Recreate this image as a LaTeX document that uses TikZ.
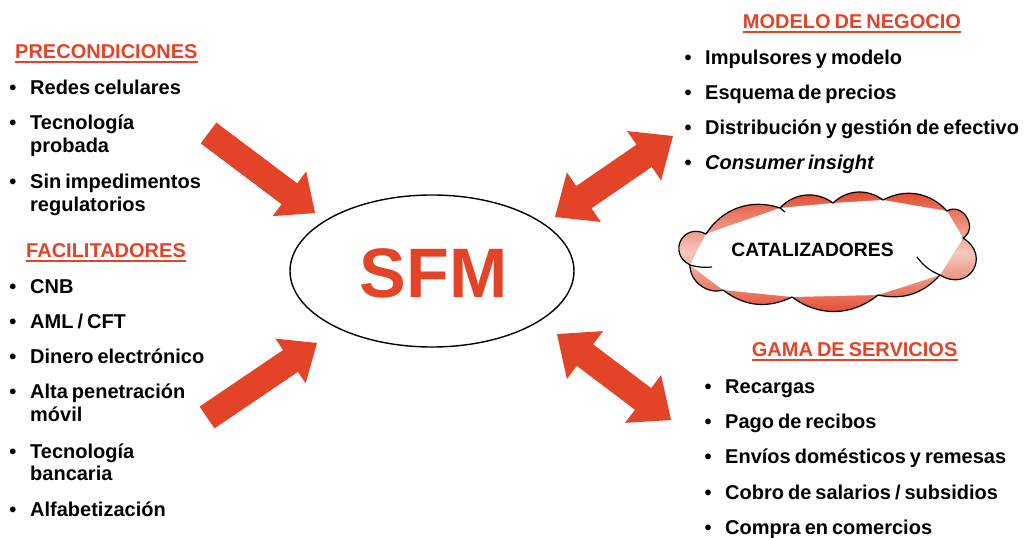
\documentclass[tikz,border=0pt]{standalone}
\usepackage{fontspec}
\setmainfont{Liberation Sans}
\usetikzlibrary{calc,shapes.geometric}
\definecolor{cred}{RGB}{227,68,40}
\definecolor{cpink}{RGB}{246,200,190}
\newcommand{\mytxtfont}{\fontsize{20bp}{24bp}\selectfont\bfseries\spaceskip=4bp\relax}
% single block arrow: #1 tail, #2 tip, #3 shaft half width, #4 head half width, #5 head length
\newcommand{\blkarrow}[5]{%
  \coordinate (hb) at ($(#2)!#5!(#1)$);
  \fill[cred] ($(#1)!#3!90:(#2)$) -- ($(hb)!#3!90:(#2)$) -- ($(hb)!#4!90:(#2)$) -- (#2)
    -- ($(hb)!#4!-90:(#2)$) -- ($(hb)!#3!-90:(#2)$) -- ($(#1)!#3!-90:(#2)$) -- cycle;}
% double block arrow: #1 tip A, #2 tip B
\newcommand{\dblarrow}[5]{%
  \coordinate (ha) at ($(#1)!#5!(#2)$);
  \coordinate (hbb) at ($(#2)!#5!(#1)$);
  \fill[cred] (#1) -- ($(ha)!#4!90:(#2)$) -- ($(ha)!#3!90:(#2)$) -- ($(hbb)!#3!-90:(#1)$)
    -- ($(hbb)!#4!-90:(#1)$) -- (#2) -- ($(hbb)!#4!90:(#1)$) -- ($(hbb)!#3!90:(#1)$)
    -- ($(ha)!#3!-90:(#2)$) -- ($(ha)!#4!-90:(#2)$) -- cycle;}
\begin{document}
\begin{tikzpicture}[x=1bp,y=-1bp,
  txt/.style={inner sep=0pt, anchor=base west, font=\mytxtfont},
  bul/.style={inner sep=0pt, anchor=base, font=\mytxtfont},
  head/.style={txt, text=cred},
  uline/.style={cred, line width=1.6bp},
  outline/.style={black, line width=1.2bp}]
\useasboundingbox[fill=white] (0,0) rectangle (1027,538);

% ---------- central ellipse ----------
\node[draw, line width=1.4bp, ellipse, minimum width=284bp, minimum height=152bp, inner sep=0pt] (sfmell) at (432,271) {};
\node[inner sep=0pt, anchor=base, text=cred, font=\fontsize{70bp}{80bp}\selectfont\bfseries] (sfm) at (433.5,298) {SFM};

% ---------- arrows ----------
\coordinate (a1s) at (208.5,133); \coordinate (a1e) at (315,213);
\coordinate (a2s) at (207,417.5); \coordinate (a2e) at (317,343);
\coordinate (a3a) at (555,217);  \coordinate (a3b) at (673,136);
\coordinate (a4a) at (557,334);  \coordinate (a4b) at (671,420);
\blkarrow{a1s}{a1e}{13bp}{28bp}{32bp}
\blkarrow{a2s}{a2e}{13.2bp}{27bp}{32bp}
\dblarrow{a3a}{a3b}{13.5bp}{30bp}{35bp}
\dblarrow{a4a}{a4b}{13.5bp}{30bp}{35bp}

% ---------- cloud ----------
\coordinate (n1) at (706,234);
\coordinate (n2) at (780,208);
\coordinate (n3) at (833,203);
\coordinate (n4) at (883,200);
\coordinate (n5) at (947,211);
\coordinate (n6) at (963,238);
\coordinate (n7) at (940,275);
\coordinate (n8) at (878,295);
\coordinate (n9) at (792,297);
\coordinate (n10) at (723,290);
\coordinate (n11) at (690,265);
\def\cloudpath{(n11) to[bend left=90, looseness=1.9] (n1) to[bend left=38] (n2)
  to[bend left=42] (n3) to[bend left=40] (n4) to[bend left=38] (n5)
  to[bend left=90, looseness=1.5] (n6) to[bend left=90, looseness=2.0] (n7)
  to[bend left=30] (n8) to[bend left=38] (n9) to[bend left=32] (n10)
  to[bend left=55] (n11) -- cycle}
\shade[top color=cred, bottom color=cred, middle color=cpink] \cloudpath;
\fill[white] (n1) -- (n2) -- (n3) -- (n4) -- (n5) -- (n6) -- (n7) -- (n8) -- (n9) -- (n10) -- (n11) -- cycle;
\draw[outline] \cloudpath;
\draw[outline] (n7) to[bend left=15] (917,257);
\draw[outline] (n11) to[bend right=10] (712,267);
\draw[outline] (n2) -- (785,212);
\node[inner sep=0pt, anchor=base, font=\fontsize{19.3bp}{22bp}\selectfont\bfseries] (cat) at (812.5,256.7) {CATALIZADORES};

% ---------- left: PRECONDICIONES ----------
\node[head] (h1) at (15,58.3) {PRECONDICIONES};
\draw[uline] ([yshift=-3.5bp]h1.base west) -- ([yshift=-3.5bp]h1.base east);
\node[bul] (b1) at (13,94.3) {•};   \node[txt] (p1) at (30,94.3) {Redes celulares};
\node[bul] (b2) at (13,130) {•};    \node[txt] (p2a) at (30,130) {Tecnología};
                                     \node[txt] (p2b) at (30,152.5) {probada};
\node[bul] (b3) at (13,188.5) {•};  \node[txt] (p3a) at (30,188.5) {Sin impedimentos};
                                     \node[txt] (p3b) at (30,211.5) {regulatorios};

% ---------- left: FACILITADORES ----------
\node[head] (h2) at (26,257.3) {FACILITADORES};
\draw[uline] ([yshift=-3.5bp]h2.base west) -- ([yshift=-3.5bp]h2.base east);
\node[bul] (b4) at (13,293.3) {•};  \node[txt] (f1) at (30,293.3) {CNB};
\node[bul] (b5) at (13,328.3) {•};  \node[txt] (f2) at (30,328.3) {AML / CFT};
\node[bul] (b6) at (13,363.3) {•};  \node[txt] (f3) at (30,363.3) {Dinero electrónico};
\node[bul] (b7) at (13,398.3) {•};  \node[txt] (f4a) at (30,398.3) {Alta penetración};
                                     \node[txt] (f4b) at (30,421.5) {móvil};
\node[bul] (b8) at (13,458.3) {•};  \node[txt] (f5a) at (30,458.3) {Tecnología};
                                     \node[txt] (f5b) at (30,480.7) {bancaria};
\node[bul] (b9) at (13,516) {•};    \node[txt] (f6) at (30,516) {Alfabetización};

% ---------- right: MODELO DE NEGOCIO ----------
\node[head] (h3) at (742.7,28.3) {MODELO DE NEGOCIO};
\draw[uline] ([yshift=-3.5bp]h3.base west) -- ([yshift=-3.5bp]h3.base east);
\node[bul] (b10) at (688,65) {•};   \node[txt] (m1) at (705,65) {Impulsores y modelo};
\node[bul] (b11) at (688,100) {•};  \node[txt] (m2) at (705,100) {Esquema de precios};
\node[bul] (b12) at (688,135) {•};  \node[txt] (m3) at (705,135) {Distribución y gestión de efectivo};
\node[bul] (b13) at (688,170) {•};  \node[txt] (m4) at (705,170) {\itshape Consumer insight};

% ---------- right: GAMA DE SERVICIOS ----------
\node[head] (h4) at (751.7,356.7) {GAMA DE SERVICIOS};
\draw[uline] ([yshift=-3.5bp]h4.base west) -- ([yshift=-3.5bp]h4.base east);
\node[bul] (b14) at (708,393.3) {•}; \node[txt] (g1) at (725,393.3) {Recargas};
\node[bul] (b15) at (708,428.3) {•}; \node[txt] (g2) at (725,428.3) {Pago de recibos};
\node[bul] (b16) at (708,463.3) {•}; \node[txt] (g3) at (725,463.3) {Envíos domésticos y remesas};
\node[bul] (b17) at (708,499.3) {•}; \node[txt] (g4) at (725,499.3) {Cobro de salarios / subsidios};
\node[bul] (b18) at (708,534) {•};   \node[txt] (g5) at (725,534) {Compra en comercios};
\end{tikzpicture}
\end{document}
